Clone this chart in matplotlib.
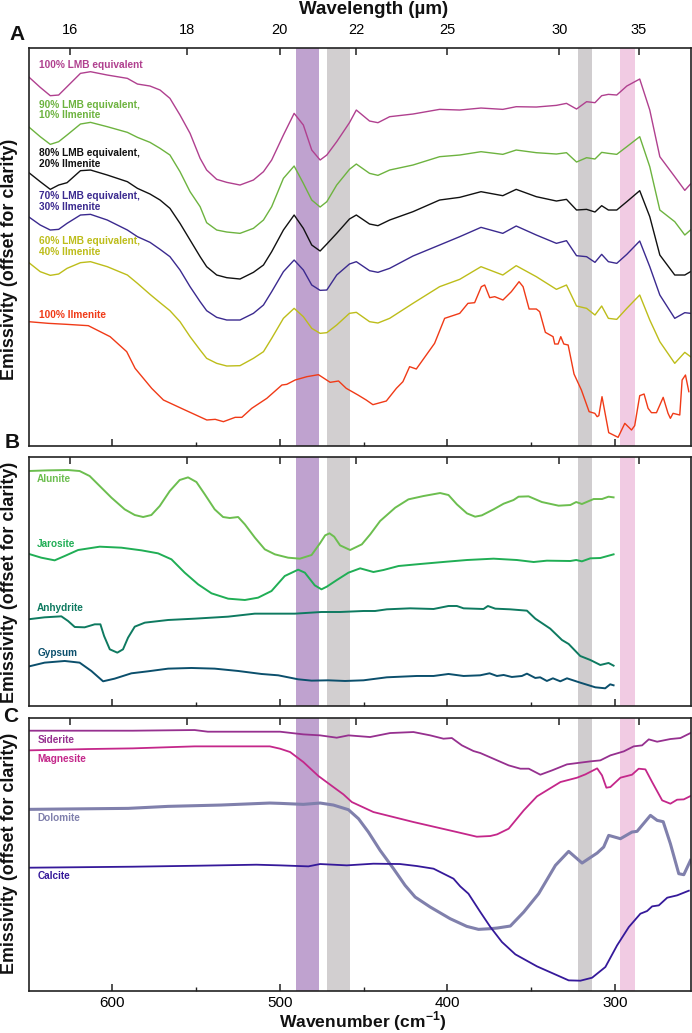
import numpy as np
import matplotlib
matplotlib.use("Agg")
import matplotlib.pyplot as plt

plt.rcParams['font.family'] = ['Liberation Sans', 'DejaVu Sans']
plt.rcParams['mathtext.fontset'] = 'custom'
plt.rcParams['mathtext.bf'] = 'Liberation Sans:bold'
plt.rcParams['mathtext.rm'] = 'Liberation Sans:bold'

# wavenumber grid shared by the five LMB mixtures (cm-1)
wn_mix = [650, 643, 637, 632, 627, 619, 613, 603, 591, 585,
          577.5, 571.5, 565.6, 559.6, 553.6, 547.6, 543.7, 537.7, 531.7, 523.8, 515.8, 509.8, 504.9, 497.9,
          491.5, 486, 481, 476, 472, 466.1, 458.5,
          454.4, 446.5, 441.5, 434.5, 420.6, 404.7, 392.7, 380, 367,
          359, 347, 335, 329, 323, 317, 312, 308, 304, 299, 293, 285.3, 279.3, 273.3, 264.4, 258.4, 255]

lmb_100 = [1108, 1076, 1051, 1053, 1078, 1118, 1123, 1113, 1103, 1086,
           1080, 1068, 1043, 993, 938, 863, 828, 800, 791, 783, 798, 823, 858, 933,
           998, 963, 888, 858, 873, 913, 970,
           1008, 975, 970, 988, 996, 1010, 1008, 1014, 1010,
           1018, 1017, 1022, 1028, 1011, 1033, 1030, 1051, 1055, 1053, 1080, 1101, 1008, 868, 808, 767, 786]
lmb_90 = [958, 928, 905, 913, 933, 966, 971, 958, 941, 926,
          911, 893, 873, 823, 763, 718, 670, 648, 642, 638, 653, 678, 718, 803,
          840, 788, 738, 717, 733, 783, 830,
          846, 818, 812, 828, 843, 868, 873, 883, 875,
          888, 880, 876, 880, 852, 865, 861, 881, 878, 875, 898, 928, 838, 708, 673, 633, 648]
lmb_80 = [821, 793, 770, 783, 790, 826, 828, 813, 793, 773,
          756, 738, 713, 668, 618, 568, 538, 513, 505, 501, 521, 543, 583, 648,
          693, 653, 603, 585, 606, 638, 681,
          693, 666, 661, 678, 703, 738, 746, 763, 751,
          770, 748, 735, 740, 708, 710, 702, 721, 708, 708, 733, 766, 688, 573, 513, 513, 523]
lmb_70 = [688, 663, 648, 650, 668, 693, 695, 678, 648, 628,
          611, 590, 568, 528, 478, 433, 406, 386, 378, 378, 398, 423, 463, 523,
          558, 528, 483, 467, 468, 513, 546,
          553, 526, 521, 533, 570, 603, 628, 656, 638,
          660, 633, 608, 616, 571, 568, 551, 575, 553, 548, 575, 615, 538, 453, 383, 400, 398]
lmb_60 = [551, 523, 512, 516, 533, 550, 553, 538, 513, 488,
          455, 430, 406, 373, 328, 288, 263, 248, 240, 241, 263, 283, 323, 383,
          413, 388, 353, 338, 340, 363, 398,
          401, 373, 369, 383, 428, 478, 500, 538, 513,
          541, 508, 470, 483, 420, 413, 393, 420, 383, 380, 413, 453, 378, 313, 248, 281, 268]

wn_ilm = [650, 638.1, 627.2, 614.3, 601.3, 591.4, 586.4, 576.5, 569.5, 557.5, 543.6, 538.6, 533.7, 526.7, 522.7,
          516.8, 507.8, 498.8, 495.9, 490.9, 483.9, 477, 470, 465,
          460.4, 453.4, 448.5, 444.5, 436.5, 430.5, 426.6, 422.6, 418.6, 407.7, 401.7, 392.7, 387.8, 383.8, 379.8,
          377.8, 374.8, 371.8, 366.9, 361.9, 357.3, 354.9, 351.3, 347, 345, 341.6, 337, 336, 334, 332.4, 330.6,
          328, 324.5, 320.1, 315.5, 312.1, 310.7, 309.7, 307.8, 303.8, 298.2, 294.2, 290.2, 288.3, 285.3, 282.7,
          280.3, 278.3, 275.3, 271.3, 268.4, 267, 265.4, 261.4, 260, 258, 256]
ilmenite = [373, 368, 365, 361, 328, 283, 233, 173, 138, 110, 78, 80, 73, 86, 86,
            113, 143, 183, 185, 198, 208, 214, 191, 195,
            173, 153, 138, 124, 135, 173, 193, 238, 231, 308, 383, 398, 428, 430, 478,
            483, 445, 448, 438, 463, 493, 478, 411, 411, 403, 341, 328, 306, 306, 328, 306,
            303, 216, 168, 103, 98, 88, 91, 148, 40, 26, 68, 48, 61, 151, 156,
            113, 100, 100, 146, 98, 83, 98, 93, 198, 213, 163]

# sulfates
wn_alunite = [650.3, 638.4, 626.4, 619.5, 613.5, 607.5, 600.5, 592.6, 586.6, 581.6, 576.7, 571.7, 565.7, 559.8, 554.8,
              549.8, 544.8, 538.9, 533.9, 529.9, 524.9, 520.9, 514.9, 509, 503, 495.1, 488.1, 481.1, 476.1,
              473, 470.4, 467.6, 464.1, 458.1, 451.1, 446.1, 440.2, 431.2, 423.3, 414.3, 404.4, 399.4, 394.4,
              388.4, 383.5, 379.5, 372.5, 366.5, 360.6, 357.6, 351.6, 343.7, 333.7, 326.7, 323.2, 319.8, 312.8,
              307.8, 303.9, 300.9]
alunite = [706, 708, 709, 706, 691, 661, 626, 591, 574, 568, 574, 601, 646, 679, 687,
           673, 636, 591, 568, 565, 568, 546, 506, 471, 456, 446, 443, 454, 489,
           513, 519, 509, 483, 469, 486, 516, 556, 596, 621, 631, 640, 634, 606,
           579, 569, 573, 591, 608, 619, 629, 630, 613, 602, 604, 613, 607, 622,
           622, 629, 627]
wn_jarosite = [650.3, 642.4, 634.4, 628.4, 620.4, 607.5, 594.6, 582.6, 572.7, 564.7, 556.8, 548.8, 540.8, 530.9, 520.9,
               513, 505, 497.1, 489.1, 485.1, 479.2, 475.2, 472, 466, 459.1, 452.1, 444.2, 438.2, 429.2, 416.3,
               400.4, 388.4, 372.5, 358.6, 348.6, 340.7, 326.7, 323.2, 319.8, 314.8, 308.8, 300.9]
jarosite = [458, 446, 438, 451, 469, 479, 476, 468, 459, 441, 401, 366, 339, 323, 319,
            326, 346, 391, 410, 401, 363, 351, 359, 379, 401, 414, 403, 409, 421, 427,
            434, 439, 443, 439, 433, 437, 436, 439, 435, 444, 445, 456]
wn_anhydrite = [650.3, 640.4, 630.4, 626.4, 622.4, 616.5, 610.5, 607.1, 604.9, 601.5, 597, 593.6, 590.6, 586.6, 580.6,
                566.7, 550.8, 530.9, 515, 491.1, 475.2, 464.1, 450.1, 443.2, 436.2, 422.3, 408.3, 399.4, 394.4,
                390.4, 378.5, 375.9, 371.5, 362.6, 352.6, 347.6, 338.7, 331.7, 327.7, 320.8, 314.8, 308.8, 303.9,
                300.9]
anhydrite = [261, 267, 270, 256, 238, 237, 246, 246, 211, 171, 161, 171, 206, 239, 251,
             259, 263, 269, 278, 278, 283, 283, 286, 286, 291, 294, 292, 301, 301,
             294, 292, 301, 293, 291, 287, 263, 233, 199, 187, 151, 139, 124, 130,
             122]
wn_gypsum = [650.3, 640.4, 628.4, 619.5, 612.5, 605.5, 598.6, 588.6, 578.7, 566.7, 552.8, 538.9, 524.9, 511, 501,
             489.1, 481.1, 471.2, 461.1, 450.1, 436.2, 418.3, 408.3, 399.4, 390.4, 380.5, 374.9, 370.5, 366.5,
             361.6, 355.6, 352.6, 347.6, 344.7, 340.7, 337.1, 332.7, 328.7, 320.8, 311.8, 305.9, 302.9, 300.9]
gypsum = [119, 131, 136, 131, 106, 75, 83, 99, 105, 113, 115, 113, 106, 97, 93,
          81, 77, 78, 76, 78, 87, 91, 91, 97, 91, 93, 99, 91, 94,
          88, 91, 98, 85, 87, 76, 84, 75, 84, 71, 57, 54, 66, 63]

# carbonates
wn_siderite = [649.9, 614.2, 587.8, 550.9, 543, 499.9, 486, 476, 466.1, 459.1, 446.2, 434.2, 420.3, 410.3, 402.4,
               397.4, 391.4, 384.5, 380.4, 363.5, 356.5, 351.5, 344.6, 337.6, 328.7, 314.7, 308.8, 302.8, 294.8,
               288.9, 283.9, 279.9, 274.9, 267, 261, 255]
siderite = [780, 780, 780, 782, 777, 777, 769, 766, 759, 766, 761, 773, 776, 766, 756,
            758, 736, 719, 713, 676, 666, 666, 648, 661, 679, 688, 691, 706, 718,
            733, 736, 754, 747, 755, 758, 773]
wn_magnesite = [649.9, 614.2, 587.8, 550.9, 506, 499.9, 493.9, 486, 477, 468.1, 462.1, 457.1, 444.2, 420.3, 394.4,
                382.5, 374.5, 370.4, 363.5, 354.5, 346.6, 332.6, 322.7, 317.7, 310.7, 307.8, 305.2, 302.8, 296.8,
                289.9, 285.9, 281.9, 277.9, 271.9, 267, 263, 259, 255]
magnesite = [721, 725, 727, 733, 733, 726, 716, 686, 644, 611, 589, 566, 536, 506, 476,
             462, 464, 469, 486, 541, 583, 626, 639, 649, 667, 646, 609, 611, 639,
             648, 666, 664, 626, 571, 561, 573, 574, 584]
wn_dolomite = [649.9, 590.5, 566.7, 535.1, 506, 499.9, 486, 476, 468.1, 459.1, 453.1, 447.2, 440.2, 432.2, 425.3,
               419.3, 410.3, 398.4, 388.5, 381.5, 374.5, 370.4, 362.5, 354.5, 345.6, 335.6, 327.7, 319.7, 310.7,
               306.8, 303.8, 296.8, 289.9, 286.9, 278.9, 274.9, 271.3, 267, 262, 259, 255]
dolomite = [544, 547, 553, 557, 563, 562, 559, 563, 557, 543, 516, 476, 421, 366, 316,
            281, 251, 216, 193, 184, 186, 188, 194, 236, 291, 376, 418, 383, 413,
            431, 466, 456, 476, 478, 526, 511, 507, 441, 351, 348, 391]
wn_calcite = [649.9, 587.8, 548.3, 514, 499.9, 483, 476, 460.1, 444.2, 428.3, 418.3, 408.3, 396.4, 392.4, 387.5,
              380.4, 374.4, 367.5, 359.5, 346.6, 327.7, 320.7, 313.7, 305.8, 298.8, 291.8, 284.9, 280.9, 277.9,
              273.9, 268.9, 263, 256]
calcite = [369, 372, 375, 378, 376, 373, 380, 376, 381, 380, 374, 366, 336, 313, 291,
           236, 191, 146, 109, 73, 31, 30, 39, 71, 136, 191, 231, 239, 253,
           256, 279, 286, 300]

bands = [(490.4, 476.7, '#BFA2CF'), (472, 458.4, '#D2CFD0'), (322.2, 313.6, '#D0CDCF'), (297.2, 288.2, '#F1CBE3')]
wavelength_ticks = [16, 18, 20, 22, 25, 30, 35]
wavenumber_major = [600, 500, 400, 300]
wavenumber_minor = [550, 450, 350]

W, H = 692, 1033
XLIM = (650, 255)
SPINE = '#222222'


def make_panel(top, bottom, ymax):
    ax = fig.add_axes([28.5 / W, 1 - bottom / H, (690.5 - 28.5) / W, (bottom - top) / H])
    ax.set_xlim(XLIM)
    ax.set_ylim(0, ymax)
    ax.set_yticks([])
    for s in ax.spines.values():
        s.set_linewidth(1.2)
        s.set_color(SPINE)
    for lo, hi, c in bands:
        ax.axvspan(lo, hi, color=c, lw=0, zorder=0)
    ax.set_xticks(wavenumber_major)
    ax.set_xticks(wavenumber_minor, minor=True)
    ax.tick_params(axis='x', which='major', direction='in', length=5, width=1.1, color=SPINE,
                   labelbottom=False)
    ax.tick_params(axis='x', which='minor', direction='in', length=3, width=1.0, color=SPINE)
    top_ax = ax.secondary_xaxis('top', functions=(lambda v: 10000 / np.maximum(v, 1),
                                                  lambda v: 10000 / np.maximum(v, 1)))
    top_ax.set_xticks(wavelength_ticks)
    top_ax.tick_params(axis='x', which='major', direction='in', length=5, width=1.1, color=SPINE,
                       labeltop=False)
    top_ax.tick_params(axis='x', which='minor', length=0)
    top_ax.spines['top'].set_visible(False)
    return ax, top_ax


fig = plt.figure(figsize=(W / 100, H / 100), dpi=100)

# panel A
axA, topA = make_panel(47.7, 446, 1195)
mixes = [
    (lmb_100, '#B0408F', '100% LMB equivalent', 1143),
    (lmb_90, '#6DB33F', '90% LMB equivalent,\n10% Ilmenite', 1008),
    (lmb_80, '#111111', '80% LMB equivalent,\n20% Ilmenite', 863),
    (lmb_70, '#3B2A8F', '70% LMB equivalent,\n30% Ilmenite', 733),
    (lmb_60, '#BDBD1A', '60% LMB equivalent,\n40% Ilmenite', 598),
]
for vals, c, name, lab_y in mixes:
    axA.plot(wn_mix, vals, color=c, lw=1.0)
    axA.text(643.5, lab_y, name, color=c, fontsize=7.3, fontweight='bold', va='center', linespacing=1.1)
axA.plot(wn_ilm, ilmenite, color='#F03A17', lw=1.0)
axA.text(643.5, 392, '100% Ilmenite', color='#F03A17', fontsize=7.3, fontweight='bold', va='center')
topA.tick_params(labeltop=True, labelsize=10.5, pad=8)
topA.set_xticklabels([str(t) for t in wavelength_ticks])

# panel B
axB, _ = make_panel(456.7, 706.3, 749)
sulfates = [
    (wn_alunite, alunite, '#6CBE4F', 'Alunite', 681),
    (wn_jarosite, jarosite, '#20AE55', 'Jarosite', 487),
    (wn_anhydrite, anhydrite, '#0E7A60', 'Anhydrite', 294),
    (wn_gypsum, gypsum, '#0B4F6C', 'Gypsum', 159),
]
for x, vals, c, name, lab_y in sulfates:
    axB.plot(x, vals, color=c, lw=1.4)
    axB.text(644.8, lab_y, name, color=c, fontsize=7.2, fontweight='bold', va='center')

# panel C
axC, _ = make_panel(717.7, 990.7, 819)
carbonates = [
    (wn_siderite, siderite, '#96308F', 1.3, 'Siderite', 752),
    (wn_magnesite, magnesite, '#C4278A', 1.3, 'Magnesite', 694),
    (wn_dolomite, dolomite, '#8080AC', 2.2, 'Dolomite', 518),
    (wn_calcite, calcite, '#35199A', 1.3, 'Calcite', 345),
]
for x, vals, c, lw, name, lab_y in carbonates:
    axC.plot(x, vals, color=c, lw=lw)
    axC.text(644.8, lab_y, name, color=c, fontsize=7.2, fontweight='bold', va='center')
axC.tick_params(axis='x', which='major', labelbottom=True, labelsize=11, pad=4)

# shared labels, placed in figure pixels
for ycenter in [259, 582, 853]:
    fig.text(9.5 / W, 1 - ycenter / H, 'Emissivity (offset for clarity)', rotation=90, fontsize=12.9,
             fontweight='bold', ha='center', va='center', color='#111111')
fig.text(374 / W, 1 - 9 / H, 'Wavelength (\u00b5m)', fontsize=13.5, fontweight='bold', ha='center', va='center',
         color='#111111')
fig.text(363 / W, 1 - 1021 / H, 'Wavenumber (cm$^{-1}$)', fontsize=12.6, fontweight='bold',
         ha='center', va='center', color='#111111')
for letter, lx, ly in [('A', 17, 35), ('B', 12, 443), ('C', 11, 717)]:
    fig.text(lx / W, 1 - ly / H, letter, fontsize=15, fontweight='bold', ha='center', va='center', color='#111111')

fig.savefig('out.png', dpi=100)
